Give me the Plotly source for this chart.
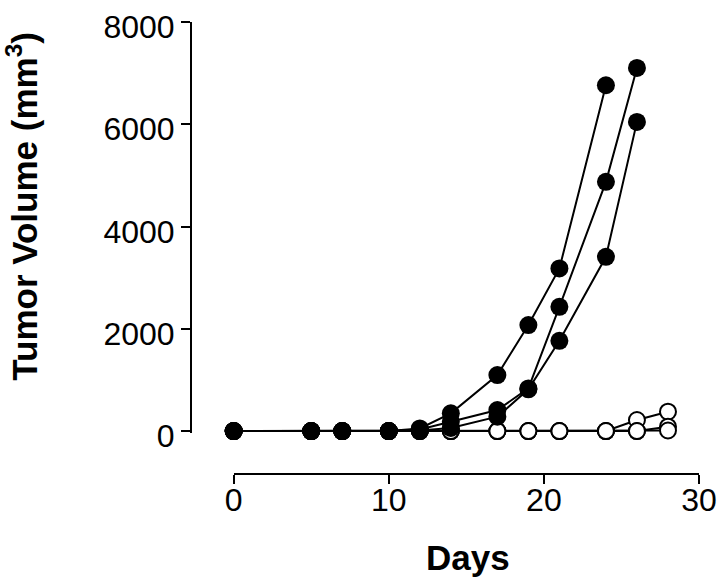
import plotly.graph_objects as go

# ---- data ----
days = [0, 5, 7, 10, 12, 14, 17, 19, 21, 24, 26, 28]

# filled circles (three animals)
filled_a_days = [0, 5, 7, 10, 12, 14, 17, 19, 21, 24]
filled_a = [0, 0, 0, 0, 50, 346, 1095, 2072, 3180, 6763]
filled_b_days = [0, 5, 7, 10, 12, 14, 17, 19, 21, 24, 26]
filled_b = [0, 0, 0, 0, 30, 182, 410, 834, 2430, 4873, 7101]
filled_c_days = [0, 5, 7, 10, 12, 14, 17, 19, 21, 24, 26]
filled_c = [0, 0, 0, 0, 10, 59, 280, 815, 1765, 3407, 6046]

# open circles (three animals)
open_a = [0, 0, 0, 0, 0, 0, 0, 0, 0, 0, 215, 378]
open_b = [0, 0, 0, 0, 0, 0, 0, 0, 0, 0, 0, 84]
open_c = [0, 0, 0, 0, 0, 0, 0, 0, 0, 0, 0, 10]

x_ticks = [0, 10, 20, 30]
y_ticks = [0, 2000, 4000, 6000, 8000]

FONT = "Arial, Liberation Sans, Helvetica, sans-serif"

fig = go.Figure()

for ys in (open_a, open_b, open_c):
    fig.add_trace(go.Scatter(
        x=days, y=ys, mode="lines+markers", cliponaxis=False,
        line=dict(color="black", width=2),
        marker=dict(symbol="circle", size=16, color="white",
                    line=dict(color="black", width=2)),
        showlegend=False, hoverinfo="skip"))

for xs, ys in ((filled_c_days, filled_c), (filled_b_days, filled_b),
               (filled_a_days, filled_a)):
    fig.add_trace(go.Scatter(
        x=xs, y=ys, mode="lines+markers", cliponaxis=False,
        line=dict(color="black", width=2),
        marker=dict(symbol="circle", size=18, color="black",
                    line=dict(color="black", width=0)),
        showlegend=False, hoverinfo="skip"))

fig.update_layout(
    width=720, height=580,
    margin=dict(l=191, r=21, t=22, b=106, pad=0, autoexpand=False),
    paper_bgcolor="white", plot_bgcolor="white",
    font=dict(family=FONT, color="black"),
    xaxis=dict(
        domain=[0.084, 1], anchor="free", position=0, automargin=False,
        range=[0, 30], tickvals=x_ticks, ticktext=[str(v) for v in x_ticks],
        ticks="outside", ticklen=9, tickwidth=2, tickcolor="black",
        ticklabelstandoff=-11,
        showline=True, linewidth=2, linecolor="black",
        showgrid=False, zeroline=False,
        tickfont=dict(family=FONT, size=32, color="black")),
    yaxis=dict(
        domain=[0.0917, 1], anchor="free", position=0, automargin=False,
        range=[-30, 8000], tickvals=y_ticks, ticktext=[str(v) for v in y_ticks],
        ticks="outside", ticklen=9, tickwidth=2, tickcolor="black",
        ticklabelshift=5,
        showline=True, linewidth=2, linecolor="black",
        showgrid=False, zeroline=False,
        tickfont=dict(family=FONT, size=32, color="black")),
    annotations=[
        dict(text="<b>Days</b>", xref="paper", yref="paper",
             x=0.545, y=-0.1857, xanchor="center", yanchor="middle",
             showarrow=False, font=dict(family=FONT, size=35, color="black")),
        dict(text="<b>Tumor Volume (mm<sup>3</sup>)</b>", xref="paper", yref="paper",
             x=-0.3325, y=0.5914, xanchor="center", yanchor="middle",
             textangle=-90, showarrow=False,
             font=dict(family=FONT, size=35, color="black")),
    ],
)

fig.write_html("out.html", config={"displayModeBar": False})

# remove the browser's default page margin so the figure sits at (0, 0)
with open("out.html", "r", encoding="utf-8") as f:
    html = f.read()
html = html.replace("<head>", "<head><style>html,body{margin:0;padding:0;overflow:hidden;}</style>", 1)
with open("out.html", "w", encoding="utf-8") as f:
    f.write(html)
